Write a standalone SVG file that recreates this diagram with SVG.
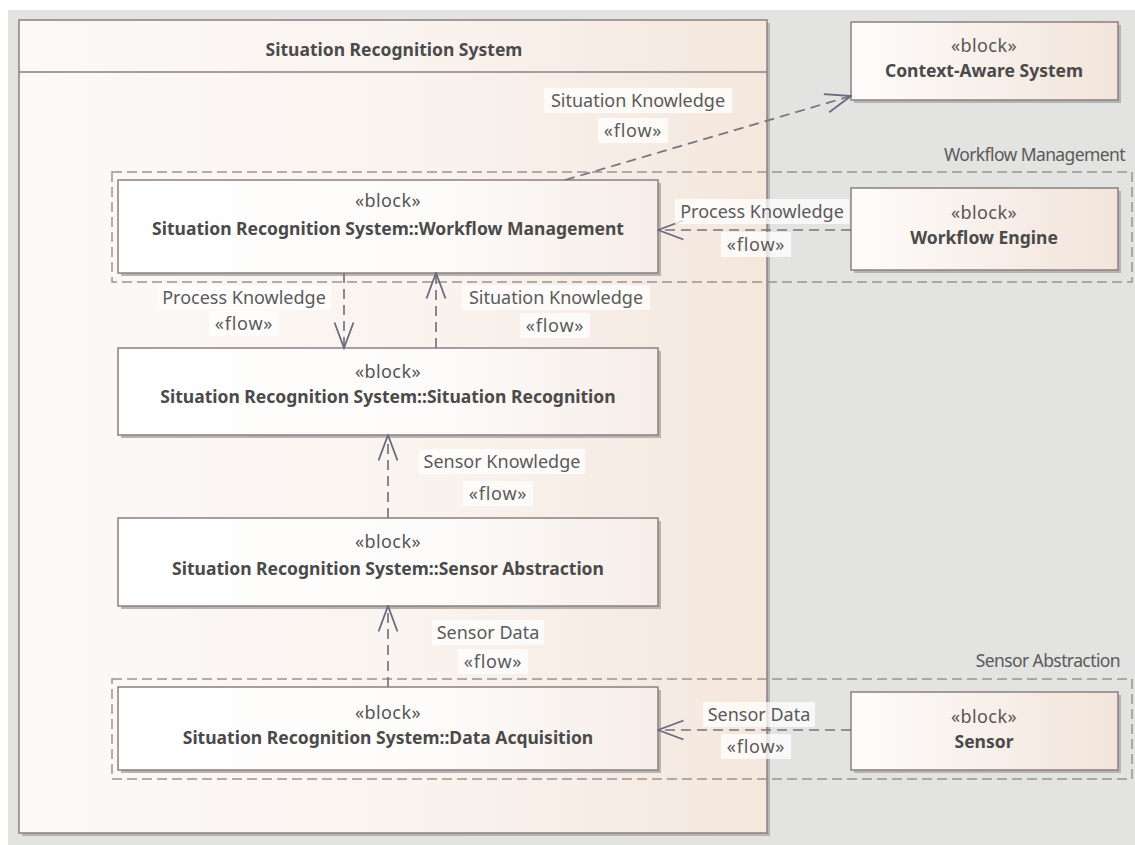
<svg xmlns="http://www.w3.org/2000/svg" width="1135" height="845" viewBox="0 0 1135 845">
  <defs>
    <linearGradient id="frameFill" x1="0" y1="0" x2="1" y2="0">
      <stop offset="0" stop-color="#fcf9f7"/>
      <stop offset="0.5" stop-color="#faf4f0"/>
      <stop offset="1" stop-color="#f4e7dd"/>
    </linearGradient>
    <linearGradient id="blockFill" x1="0" y1="0" x2="1" y2="0">
      <stop offset="0" stop-color="#ffffff"/>
      <stop offset="0.6" stop-color="#fdfbfa"/>
      <stop offset="1" stop-color="#f6ede7"/>
    </linearGradient>
    <linearGradient id="extFill" x1="0" y1="0" x2="1" y2="0">
      <stop offset="0" stop-color="#fefcfb"/>
      <stop offset="1" stop-color="#f2e4da"/>
    </linearGradient>
    <!-- open flow arrowhead, long and narrow -->
    <marker id="open" viewBox="0 0 28 22" refX="26.5" refY="11" markerWidth="28" markerHeight="22" markerUnits="userSpaceOnUse" orient="auto">
      <path d="M1,1.5 L26.5,11 L1,20.5" fill="none" stroke="#6a6a7e" stroke-width="1.8"/>
    </marker>
  </defs>
  <style>
    .blk { stroke: #8b8080; stroke-width: 1.5; }
    .shadow { fill: #b8b4b2; }
    .grp { fill: none; stroke: #9a9494; stroke-width: 1.5; stroke-dasharray: 10 5; }
    .flow { fill: none; stroke: #75757f; stroke-width: 1.7; stroke-dasharray: 10 6; marker-end: url(#open); }
    .st { font-family: "Noto Sans", "Open Sans", sans-serif; font-size: 18px; fill: #555; text-anchor: middle; letter-spacing: 0.4px; }
    .nm { font-family: "Noto Sans", "Open Sans", sans-serif; font-size: 17.5px; font-weight: bold; fill: #4a4a4a; text-anchor: middle; }
    .lbl { font-family: "Noto Sans", "Open Sans", sans-serif; font-size: 18px; fill: #5a5a5a; text-anchor: middle; }
    .fl { font-family: "Noto Sans", "Open Sans", sans-serif; font-size: 18px; fill: #5a5a5a; text-anchor: middle; letter-spacing: 0.8px; }
    .gl { font-family: "Noto Sans", "Open Sans", sans-serif; font-size: 17.5px; fill: #5a5a5a; text-anchor: end; letter-spacing: -0.6px; }
    .lbg { fill: #ffffff; fill-opacity: 0.75; }
  </style>

  <!-- canvas -->
  <rect x="0" y="0" width="1135" height="845" fill="#ffffff"/>
  <rect x="8" y="10" width="1127" height="835" fill="#e3e3e1"/>

  <!-- outer frame -->
  <g id="frame">
    <rect x="22" y="23" width="748" height="813" class="shadow"/>
    <rect x="19" y="20" width="748" height="813" fill="url(#frameFill)" class="blk"/>
    <line x1="19" y1="72" x2="767" y2="72" class="blk"/>
    <text x="394" y="56" class="nm">Situation Recognition System</text>
  </g>

  <!-- group boundaries -->
  <g id="group-workflow">
    <rect x="112" y="172" width="1020" height="110" class="grp"/>
    <text x="1125" y="161" class="gl">Workflow Management</text>
  </g>
  <g id="group-sensor">
    <rect x="112" y="679" width="1020" height="100" class="grp"/>
    <text x="1120" y="667" class="gl">Sensor Abstraction</text>
  </g>

  <!-- blocks -->
  <g id="workflow-management">
    <rect x="121" y="183" width="540" height="93" class="shadow"/>
    <rect x="118" y="180" width="540" height="93" fill="url(#blockFill)" class="blk"/>
    <text x="388" y="207" class="st">«block»</text>
    <text x="388" y="235" class="nm">Situation Recognition System::Workflow Management</text>
  </g>
  <g id="situation-recognition">
    <rect x="121" y="351" width="540" height="87" class="shadow"/>
    <rect x="118" y="348" width="540" height="87" fill="url(#blockFill)" class="blk"/>
    <text x="388" y="378" class="st">«block»</text>
    <text x="388" y="403" class="nm">Situation Recognition System::Situation Recognition</text>
  </g>
  <g id="sensor-abstraction">
    <rect x="121" y="521" width="540" height="88" class="shadow"/>
    <rect x="118" y="518" width="540" height="88" fill="url(#blockFill)" class="blk"/>
    <text x="388" y="548" class="st">«block»</text>
    <text x="388" y="575" class="nm">Situation Recognition System::Sensor Abstraction</text>
  </g>
  <g id="data-acquisition">
    <rect x="121" y="690" width="540" height="83" class="shadow"/>
    <rect x="118" y="687" width="540" height="83" fill="url(#blockFill)" class="blk"/>
    <text x="388" y="719" class="st">«block»</text>
    <text x="388" y="744" class="nm">Situation Recognition System::Data Acquisition</text>
  </g>
  <g id="context-aware-system">
    <rect x="854" y="25" width="267" height="78" class="shadow"/>
    <rect x="851" y="22" width="267" height="78" fill="url(#extFill)" class="blk"/>
    <text x="984" y="52" class="st">«block»</text>
    <text x="984" y="77" class="nm">Context-Aware System</text>
  </g>
  <g id="workflow-engine">
    <rect x="854" y="191" width="267" height="82" class="shadow"/>
    <rect x="851" y="188" width="267" height="82" fill="url(#extFill)" class="blk"/>
    <text x="984" y="219" class="st">«block»</text>
    <text x="984" y="244" class="nm">Workflow Engine</text>
  </g>
  <g id="sensor">
    <rect x="854" y="695" width="267" height="78" class="shadow"/>
    <rect x="851" y="692" width="267" height="78" fill="url(#extFill)" class="blk"/>
    <text x="984" y="723" class="st">«block»</text>
    <text x="984" y="748" class="nm">Sensor</text>
  </g>

  <!-- flows -->
  <g id="connectors">
    <line x1="565" y1="180" x2="851" y2="96" class="flow"/>
    <line x1="851" y1="230" x2="658" y2="230" class="flow"/>
    <line x1="344" y1="273" x2="344" y2="348" class="flow"/>
    <line x1="436" y1="348" x2="436" y2="273" class="flow"/>
    <line x1="388" y1="518" x2="388" y2="435" class="flow"/>
    <line x1="388" y1="687" x2="388" y2="606" class="flow"/>
    <line x1="851" y1="730" x2="658" y2="730" class="flow"/>

    <!-- flow labels -->
    <rect x="544" y="88" width="188" height="25" class="lbg"/>
    <text x="638" y="107" class="lbl">Situation Knowledge</text>
    <rect x="598" y="118" width="70" height="25" class="lbg"/>
    <text x="633" y="137" class="fl">«flow»</text>

    <rect x="675" y="199" width="174" height="25" class="lbg"/>
    <text x="762" y="218" class="lbl">Process Knowledge</text>
    <rect x="721" y="232" width="70" height="25" class="lbg"/>
    <text x="756" y="251" class="fl">«flow»</text>

    <rect x="157" y="285" width="174" height="25" class="lbg"/>
    <text x="244" y="304" class="lbl">Process Knowledge</text>
    <rect x="209" y="311" width="70" height="25" class="lbg"/>
    <text x="244" y="330" class="fl">«flow»</text>

    <rect x="462" y="285" width="188" height="25" class="lbg"/>
    <text x="556" y="304" class="lbl">Situation Knowledge</text>
    <rect x="520" y="313" width="70" height="25" class="lbg"/>
    <text x="555" y="332" class="fl">«flow»</text>

    <rect x="419" y="449" width="166" height="25" class="lbg"/>
    <text x="502" y="468" class="lbl">Sensor Knowledge</text>
    <rect x="463" y="481" width="70" height="25" class="lbg"/>
    <text x="498" y="500" class="fl">«flow»</text>

    <rect x="432" y="620" width="112" height="25" class="lbg"/>
    <text x="488" y="639" class="lbl">Sensor Data</text>
    <rect x="458" y="649" width="70" height="25" class="lbg"/>
    <text x="493" y="668" class="fl">«flow»</text>

    <rect x="703" y="702" width="112" height="25" class="lbg"/>
    <text x="759" y="721" class="lbl">Sensor Data</text>
    <rect x="721" y="734" width="70" height="25" class="lbg"/>
    <text x="756" y="753" class="fl">«flow»</text>
  </g>
</svg>
